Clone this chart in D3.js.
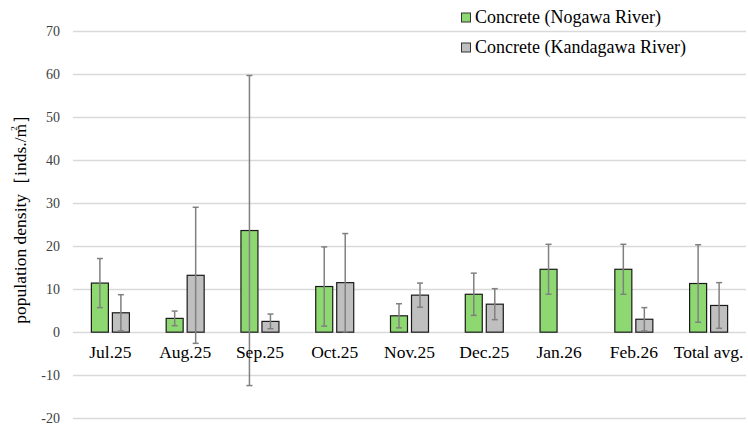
<!DOCTYPE html>
<html>
<head>
<meta charset="utf-8">
<script src="https://cdn.jsdelivr.net/npm/d3@7"></script>
<style>
  html, body { margin: 0; padding: 0; background: #fff; }
</style>
</head>
<body>
<svg id="chart" width="748" height="426"></svg>
<script>
// Monthly population density by sampling site
const categories = ["Jul.25", "Aug.25", "Sep.25", "Oct.25", "Nov.25", "Dec.25", "Jan.26", "Feb.26", "Total avg."];
const seriesNames = ["Concrete (Nogawa River)", "Concrete (Kandagawa River)"];
const nogawaMean = [11.4, 3.2, 23.6, 10.6, 3.8, 8.8, 14.6, 14.6, 11.3];
const nogawaSD   = [5.7, 1.7, 36.0, 9.2, 2.8, 4.9, 5.8, 5.8, 9.0];
const kandaMean  = [4.5, 13.2, 2.5, 11.5, 8.6, 6.5, null, 3.0, 6.2];
const kandaSD    = [4.2, 15.8, 1.7, 11.4, 2.8, 3.6, null, 2.7, 5.3];
const yTicks = [-20, -10, 0, 10, 20, 30, 40, 50, 60, 70];

const colors = ["#8ed872", "#bfbfbf"];
const FONT = "'Liberation Serif', 'Times New Roman', serif";

const svg = d3.select("#chart");
const margin = { left: 73, right: 2, top: 30.7, bottom: 7.7 };
const W = 748, H = 426;

const x = d3.scaleBand().domain(categories).range([margin.left, W - margin.right]).paddingInner(0).paddingOuter(0);
const y = d3.scaleLinear().domain([-20, 70]).range([H - margin.bottom, margin.top]);

const barW = 17, gap = 4;

// gridlines
svg.append("g")
  .selectAll("line").data(yTicks).join("line")
  .attr("x1", margin.left).attr("x2", W - margin.right)
  .attr("y1", d => Math.round(y(d)) + 0.5).attr("y2", d => Math.round(y(d)) + 0.5)
  .attr("stroke", "#d9d9d9").attr("stroke-width", 1.3);

// y tick labels (plain hyphen for negatives)
const yAxis = d3.axisLeft(y).tickValues(yTicks).tickSize(0).tickPadding(0).tickFormat(d => String(d));
const ya = svg.append("g").attr("transform", `translate(60,0)`).call(yAxis);
ya.select(".domain").remove();
ya.selectAll("text").style("font-family", FONT).style("font-size", "14px").attr("fill", "#404040");

// bars with error bars
const series = [
  { name: seriesNames[0], mean: nogawaMean, sd: nogawaSD, color: colors[0], off: -gap / 2 - barW },
  { name: seriesNames[1], mean: kandaMean, sd: kandaSD, color: colors[1], off: gap / 2 }
];

series.forEach(s => {
  const rows = categories.map((c, i) => ({ c, v: s.mean[i], e: s.sd[i] })).filter(r => r.v != null);
  const cx = r => x(r.c) + x.bandwidth() / 2 + s.off;
  svg.append("g").selectAll("rect").data(rows).join("rect")
    .attr("x", r => cx(r)).attr("width", barW)
    .attr("y", r => y(Math.max(0, r.v))).attr("height", r => Math.abs(y(r.v) - y(0)))
    .attr("fill", s.color).attr("stroke", "#1a1a1a").attr("stroke-width", 1.2);
  const eb = svg.append("g").attr("stroke", "#808080").attr("stroke-width", 1.5);
  rows.forEach(r => {
    const mx = cx(r) + barW / 2;
    eb.append("line").attr("x1", mx).attr("x2", mx).attr("y1", y(r.v + r.e)).attr("y2", y(r.v - r.e));
    [r.v + r.e, r.v - r.e].forEach(v => {
      eb.append("line").attr("x1", mx - 3).attr("x2", mx + 3).attr("y1", y(v)).attr("y2", y(v));
    });
  });
});

// category labels
const xa = svg.append("g").attr("transform", `translate(0,${y(0)})`)
  .call(d3.axisBottom(x).tickSize(0).tickPadding(0));
xa.select(".domain").remove();
xa.selectAll("text").style("font-family", FONT).style("font-size", "17.5px")
  .attr("fill", "#000").attr("dy", null).attr("y", 26);

// y-axis title
const yt = svg.append("text")
  .attr("transform", "translate(26,215) rotate(-90)")
  .attr("text-anchor", "middle").style("font-family", FONT).style("font-size", "17.5px").attr("fill", "#000");
yt.append("tspan").text("population density［inds./m");
yt.append("tspan").style("font-size", "9px").attr("dy", -9).attr("dx", -7).text("2");
yt.append("tspan").attr("dy", 9).attr("dx", 2).text("］");

// legend
const lg = svg.append("g").attr("transform", "translate(461,0)");
seriesNames.forEach((n, i) => {
  const gy = 17.5 + i * 30;
  lg.append("rect").attr("x", 0.5).attr("y", gy - 4.5).attr("width", 9).attr("height", 9)
    .attr("fill", colors[i]).attr("stroke", "#333").attr("stroke-width", 1);
  lg.append("text").attr("x", 14).attr("y", gy + 5.5)
    .style("font-family", FONT).style("font-size", "18px").attr("fill", "#000").text(n);
});
</script>
</body>
</html>
